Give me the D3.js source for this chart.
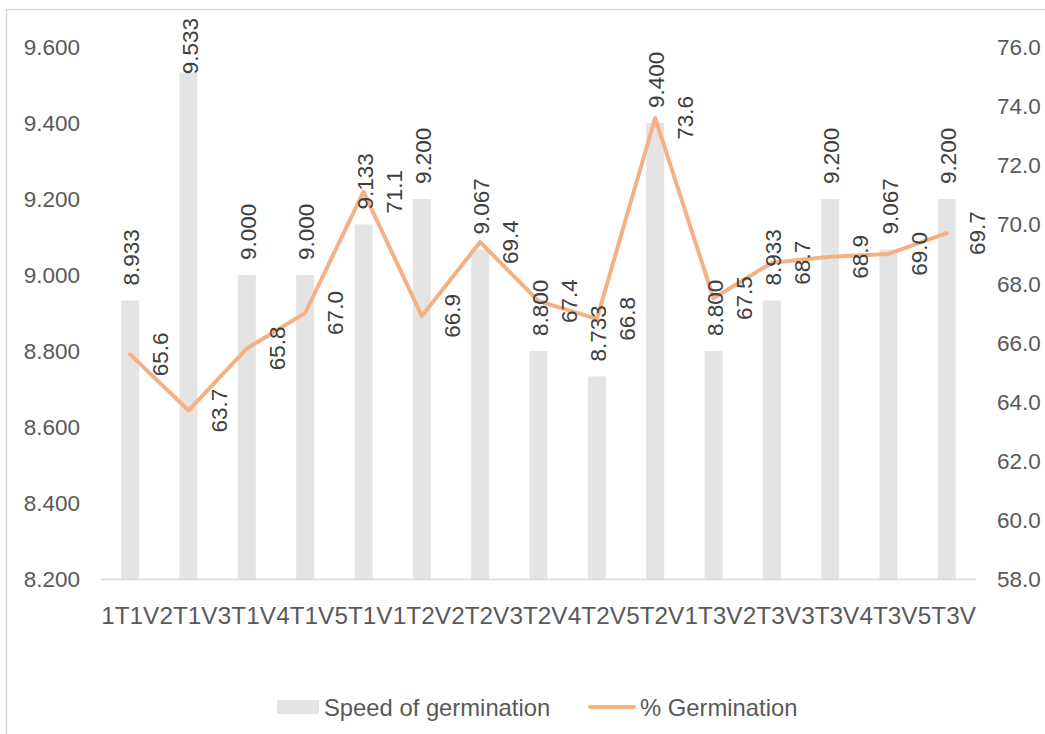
<!DOCTYPE html>
<html>
<head>
<meta charset="utf-8">
<script src="https://cdn.jsdelivr.net/npm/d3@7"></script>
<style>
  body { margin: 0; background: #fff; }
  svg { display: block; font-family: "Liberation Sans", Arial, sans-serif; }
</style>
</head>
<body>
<svg id="chart" width="1045" height="734"></svg>
<script>
// data
var categories = ["1T1V", "2T1V", "3T1V", "4T1V", "5T1V", "1T2V", "2T2V", "3T2V", "4T2V", "5T2V", "1T3V", "2T3V", "3T3V", "4T3V", "5T3V"];
var speed = [8.933, 9.533, 9.000, 9.000, 9.133, 9.200, 9.067, 8.800, 8.733, 9.400, 8.800, 8.933, 9.200, 9.067, 9.200];
var germ = [65.6, 63.7, 65.8, 67.0, 71.1, 66.9, 69.4, 67.4, 66.8, 73.6, 67.5, 68.7, 68.9, 69.0, 69.7];
var leftTicks = [8.2, 8.4, 8.6, 8.8, 9.0, 9.2, 9.4, 9.6];
var rightTicks = [58, 60, 62, 64, 66, 68, 70, 72, 74, 76];
var seriesNames = ["Speed of germination", "% Germination"];

var barColor = "#e4e4e4",
    lineColor = "#f4b183",
    axisText = "#595959",
    labelText = "#404040",
    fontSize = 22.5;

var svg = d3.select("#chart");

// chart area border (only top/left visible in the frame)
svg.append("rect")
  .attr("x", 6.5).attr("y", 9.5)
  .attr("width", 1100).attr("height", 800)
  .style("fill", "none")
  .style("stroke", "#d9d9d9")
  .style("stroke-width", 1.5);

var plot = {left: 101, right: 976, top: 47, bottom: 579};

var x = d3.scalePoint()
  .domain(categories)
  .range([plot.left, plot.right])
  .padding(0.5);

var yL = d3.scaleLinear().domain([8.2, 9.6]).range([plot.bottom, plot.top]);
var yR = d3.scaleLinear().domain([58, 76]).range([plot.bottom, plot.top]);

var barW = 18;

// bars
svg.append("g").selectAll("rect")
  .data(speed)
  .enter().append("rect")
    .attr("x", function(d, i) { return x(categories[i]) - barW / 2; })
    .attr("y", function(d) { return yL(d); })
    .attr("width", barW)
    .attr("height", function(d) { return yL(8.2) - yL(d); })
    .style("fill", barColor);

// category axis line
svg.append("line")
  .attr("x1", plot.left).attr("x2", plot.right)
  .attr("y1", plot.bottom + 0.5).attr("y2", plot.bottom + 0.5)
  .style("stroke", "#d9d9d9")
  .style("stroke-width", 1.5);

// left axis labels
svg.append("g").selectAll("text")
  .data(leftTicks)
  .enter().append("text")
    .attr("x", 80)
    .attr("y", function(d) { return yL(d); })
    .attr("dy", "0.36em")
    .style("text-anchor", "end")
    .style("font-size", fontSize + "px")
    .style("fill", axisText)
    .text(function(d) { return d3.format(".3f")(d); });

// right axis labels
svg.append("g").selectAll("text")
  .data(rightTicks)
  .enter().append("text")
    .attr("x", 997)
    .attr("y", function(d) { return yR(d); })
    .attr("dy", "0.36em")
    .style("text-anchor", "start")
    .style("font-size", fontSize + "px")
    .style("fill", axisText)
    .text(function(d) { return d3.format(".1f")(d); });

// category labels (they run into each other in the original)
svg.append("g").selectAll("text")
  .data(categories)
  .enter().append("text")
    .attr("x", function(d) { return x(d); })
    .attr("y", 615)
    .attr("dy", "0.36em")
    .style("text-anchor", "middle")
    .style("font-size", "24.3px")
    .style("fill", axisText)
    .text(function(d) { return d; });

// germination line
var line = d3.line()
  .x(function(d, i) { return x(categories[i]); })
  .y(function(d) { return yR(d); });

svg.append("path")
  .datum(germ)
  .attr("d", line)
  .style("fill", "none")
  .style("stroke", lineColor)
  .style("stroke-width", 4)
  .style("stroke-linejoin", "round")
  .style("stroke-linecap", "round");

// bar value labels (rotated, outside end, pushed down if they would leave the plot)
svg.append("g").selectAll("text")
  .data(speed)
  .enter().append("text")
    .style("font-size", fontSize + "px")
    .style("fill", labelText)
    .style("text-anchor", "start")
    .text(function(d) { return d3.format(".3f")(d); })
    .each(function(d, i) {
      var len = this.getComputedTextLength();
      var cx = x(categories[i]) + 1;
      var cy = Math.max(yL(d) - 15, 18 + len);
      d3.select(this)
        .attr("transform", "translate(" + cx + "," + cy + ") rotate(-90)")
        .attr("dy", "0.36em");
    });

// line value labels (rotated, to the right of the point)
svg.append("g").selectAll("text")
  .data(germ)
  .enter().append("text")
    .attr("transform", function(d, i) {
      return "translate(" + (x(categories[i]) + 30) + "," + yR(d) + ") rotate(-90)";
    })
    .attr("dy", "0.36em")
    .style("text-anchor", "middle")
    .style("font-size", fontSize + "px")
    .style("fill", labelText)
    .text(function(d) { return d3.format(".1f")(d); });

// legend
var legend = svg.append("g");
legend.append("rect")
  .attr("x", 277).attr("y", 700)
  .attr("width", 42).attr("height", 14)
  .style("fill", barColor);
legend.append("text")
  .attr("x", 324).attr("y", 707)
  .attr("dy", "0.36em")
  .style("font-size", "23.8px")
  .style("fill", axisText)
  .text(seriesNames[0]);
legend.append("line")
  .attr("x1", 590).attr("x2", 634)
  .attr("y1", 707).attr("y2", 707)
  .style("stroke", lineColor)
  .style("stroke-width", 4)
  .style("stroke-linecap", "round");
legend.append("text")
  .attr("x", 640).attr("y", 707)
  .attr("dy", "0.36em")
  .style("font-size", "23.8px")
  .style("fill", axisText)
  .text(seriesNames[1]);
</script>
</body>
</html>
